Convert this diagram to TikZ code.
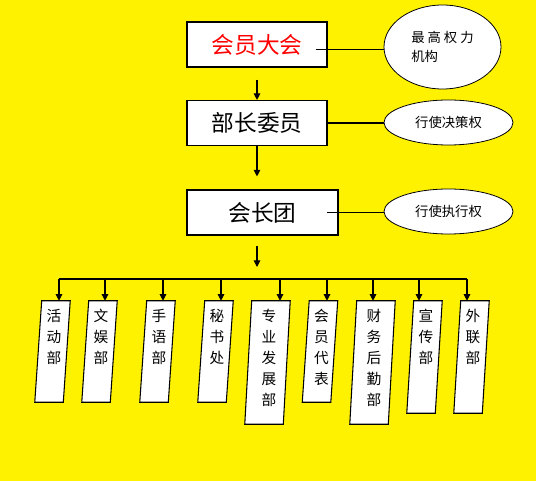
\documentclass[tikz,border=0pt]{standalone}
\usepackage{fontspec}
\setmainfont{Noto Sans CJK SC}
\usetikzlibrary{shapes.geometric,arrows.meta}

\begin{document}
\begin{tikzpicture}[x=0.75pt, y=-0.75pt,
    box/.style={rectangle, draw, fill=white, line width=0.8pt, inner sep=0pt, minimum width=105pt, minimum height=33.75pt, font=\fontsize{17}{20}\selectfont},
    oval/.style={ellipse, draw, fill=white, line width=0.6pt, inner sep=0pt, align=left, minimum width=96.75pt, minimum height=33.75pt, font=\fontsize{10}{14.25}\selectfont},
    lean/.store in=\deptlean, lean=2.6pt,
    dept/.style={rectangle, inner sep=0pt, minimum width=21pt, minimum height=75.75pt,
      append after command={\pgfextra{\draw[fill=white, line width=0.8pt]
        ([xshift=\deptlean]\tikzlastnode.north west) -- ([xshift=\deptlean]\tikzlastnode.north east)
        -- ([xshift=-\deptlean]\tikzlastnode.south east) -- ([xshift=-\deptlean]\tikzlastnode.south west) -- cycle;}}},
    lab/.style={anchor=north, align=center, inner sep=0pt, xshift=1pt, yshift=-6pt, font=\fontsize{11}{15.75}\selectfont},
    arr/.style={-{Triangle[width=5pt, length=5pt]}, line width=0.8pt}]

    % Background
    \fill[yellow] (0,0) rectangle (536,481);
    \useasboundingbox (0,0) rectangle (536,481);

    % Nodes
    \node[box, text=red] at (257,44.5) (hy) {会员大会};
    \node[box] at (257,123) (bz) {部长委员};
    \node[box, minimum width=113.25pt] at (262.5,212.5) (hz) {会长团};

    \node[oval, minimum width=87.75pt, minimum height=63pt] at (442.5,47) (q1) {最 高 权 力\\机构};
    \node[oval] at (448.5,122.5) (q2) {行使决策权};
    \node[oval] at (448.5,211.5) (q3) {行使执行权};

    \coordinate (bus) at (257,279);

    \node[dept, label={[lab]north:{活\\动\\部}}] at (52.5,351.5) (d1) {};
    \node[dept, label={[lab]north:{文\\娱\\部}}] at (99.5,351.5) (d2) {};
    \node[dept, label={[lab]north:{手\\语\\部}}] at (157.5,351.5) (d3) {};
    \node[dept, label={[lab]north:{秘\\书\\处}}] at (215.5,351.5) (d4) {};
    \node[dept, lean=3.4pt, minimum width=28.5pt, minimum height=92.25pt, label={[lab]north:{专\\业\\发\\展\\部}}] at (267.5,362.5) (d5) {};
    \node[dept, label={[lab]north:{会\\员\\代\\表}}] at (320,351.5) (d6) {};
    \node[dept, lean=3.4pt, minimum width=28.5pt, minimum height=92.25pt, label={[lab]north:{财\\务\\后\\勤\\部}}] at (372.5,362.5) (d7) {};
    \node[dept, minimum height=84pt, label={[lab]north:{宣\\传\\部}}] at (424.5,357) (d8) {};
    \node[dept, minimum height=84pt, label={[lab]north:{外\\联\\部}}] at (471.5,357) (d9) {};

    % Connectors
    \draw[line width=0.8pt] ([shift={(-12,5)}]hy.east) coordinate (l1) -- (l1 -| q1.west);
    \draw[line width=0.8pt] (bz.east) -- (bz.east -| q2.west);
    \draw[line width=0.8pt] ([xshift=-9pt]hz.east) -- (hz.east -| q3.west);

    \draw[arr, shorten <=9pt] (hy.south) -- (bz.north);
    \draw[arr, shorten >=9.75pt] (bz.south) -- (hz.north -| bz.south);
    \draw[arr, shorten <=7.5pt, shorten >=9pt] (hz.south -| bus) -- (bus);

    \draw[line width=0.8pt] (bus -| 59,0) -- (bus -| 467,0);
    \foreach \n/\x in {d1/59, d2/105, d3/163, d4/221, d5/280, d6/327, d7/373, d8/419, d9/467}
      \draw[arr] (bus -| \x,0) -- (\n.north -| \x,0);

\end{tikzpicture}
\end{document}
